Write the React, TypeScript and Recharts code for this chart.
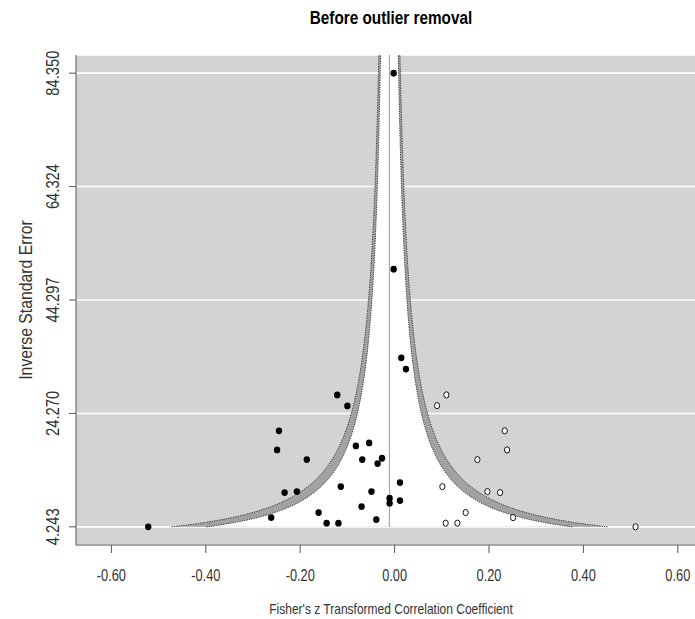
import React from 'react';
import { ComposedChart, Area, Scatter, XAxis, YAxis, CartesianGrid, ReferenceLine } from 'recharts';

// Observed studies (filled dots)
const observedEffect = [
  -0.002, -0.002, 0.0142, 0.024,
  -0.522, -0.2615, -0.245, -0.249, -0.233, -0.207, -0.186, -0.161, -0.144, -0.119,
  -0.1215, -0.1, -0.114, -0.082, -0.054, -0.0685, -0.07, -0.049, -0.0267, -0.036,
  -0.0388, -0.0106, -0.0106, 0.0114, 0.0114,
];
const observedPrecision = [
  84.35, 49.74, 34.08, 32.1,
  4.243, 5.88, 21.2, 17.83, 10.3, 10.47, 16.12, 6.77, 4.89, 4.89,
  27.54, 25.6, 11.35, 18.54, 19.06, 16.12, 7.83, 10.47, 16.36, 15.41,
  5.53, 9.31, 8.43, 12.06, 8.89,
];
// Imputed studies from trim-and-fill (open dots)
const imputedEffect = [
  0.1097, 0.09, 0.2333, 0.2383, 0.1754, 0.1012, 0.1966, 0.2235, 0.1506, 0.1082, 0.133, 0.251, 0.5105,
];
const imputedPrecision = [
  27.54, 25.65, 21.2, 17.83, 16.12, 11.35, 10.47, 10.3, 6.77, 4.89, 4.89, 5.88, 4.243,
];

const xTicks = [-0.6, -0.4, -0.2, 0, 0.2, 0.4, 0.6];
const yTicks = [4.243, 24.27, 44.297, 64.324, 84.35];

const pooledEstimate = -0.011;
const zInner = 1.645;
const zOuter = 1.96;
const yDomain: [number, number] = [1.039, 87.554];
const xDomain: [number, number] = [-0.675, 0.7];
const funnelBottom = 4.243;
const funnelSteps = 160;

// funnel contour rows (estimate +/- z / precision)
const funnelRows = Array.from({ length: funnelSteps + 1 }, (_, i) => {
  const y = funnelBottom * Math.pow(yDomain[1] / funnelBottom, i / funnelSteps);
  return {
    y,
    outer: [pooledEstimate - zOuter / y, pooledEstimate + zOuter / y],
    inner: [pooledEstimate - zInner / y, pooledEstimate + zInner / y],
  };
});

const observedPoints = observedEffect.map((x, i) => ({ x, y: observedPrecision[i] }));
const imputedPoints = imputedEffect.map((x, i) => ({ x, y: imputedPrecision[i] }));

const FONT = "'Liberation Sans', Arial, sans-serif";

const XTick = (props: any) => {
  const { x, y, payload } = props;
  return (
    <text
      transform={`translate(${x} ${y + 26}) scale(0.8 1)`}
      textAnchor="middle"
      fontFamily={FONT}
      fontSize={16}
      fill="#333"
    >
      {Number(payload.value).toFixed(2)}
    </text>
  );
};

const YTick = (props: any) => {
  const { x, y, payload } = props;
  const tx = x - 8;
  return (
    <text
      transform={`translate(${tx} ${y}) rotate(-90) scale(0.82 1)`}
      textAnchor="middle"
      fontFamily={FONT}
      fontSize={18}
      fill="#333"
    >
      {Number(payload.value).toFixed(3)}
    </text>
  );
};

const FilledDot = (p: any) => <ellipse cx={p.cx} cy={p.cy} rx={3.2} ry={3.4} fill="#000" />;
const OpenDot = (p: any) => (
  <ellipse cx={p.cx} cy={p.cy} rx={2.6} ry={3.1} fill="#fff" stroke="#111" strokeWidth={1} />
);

export default function App() {
  return (
    <div style={{ position: 'absolute', left: 0, top: 0, width: 695, height: 619, overflow: 'hidden', background: '#fff' }}>
      <ComposedChart
        width={725}
        height={619}
        layout="vertical"
        data={funnelRows}
        margin={{ top: 55, right: 0, bottom: 0, left: 0 }}
      >
        <CartesianGrid vertical={false} horizontal stroke="#ffffff" strokeWidth={1.6} fill="#d3d3d3" />
        <XAxis
          type="number"
          domain={xDomain}
          ticks={xTicks}
          allowDataOverflow
          height={74}
          tickSize={8}
          tick={<XTick />}
          axisLine={{ stroke: '#555' }}
          tickLine={{ stroke: '#555' }}
        />
        <YAxis
          type="number"
          dataKey="y"
          domain={yDomain}
          ticks={yTicks}
          reversed
          allowDataOverflow
          width={76}
          tickSize={7}
          tick={<YTick />}
          axisLine={{ stroke: '#555' }}
          tickLine={{ stroke: '#555' }}
        />
        <Area
          dataKey="outer"
          type="linear"
          fill="#a2a2a2"
          fillOpacity={1}
          stroke="#3a3a3a"
          strokeWidth={1}
          strokeDasharray="1.3 1.1"
          dot={false}
          activeDot={false}
          isAnimationActive={false}
        />
        <Area
          dataKey="inner"
          type="linear"
          fill="#ffffff"
          fillOpacity={1}
          stroke="#3a3a3a"
          strokeWidth={1}
          strokeDasharray="1.3 1.1"
          dot={false}
          activeDot={false}
          isAnimationActive={false}
        />
        <ReferenceLine
          segment={[{ x: pooledEstimate, y: funnelBottom }, { x: pooledEstimate, y: yDomain[1] }]}
          stroke="#9a9a9a"
          strokeWidth={1}
        />
        <Scatter data={observedPoints} dataKey="x" shape={FilledDot} isAnimationActive={false} />
        <Scatter data={imputedPoints} dataKey="x" shape={OpenDot} isAnimationActive={false} />
      </ComposedChart>
      <div
        style={{
          position: 'absolute', left: 391, top: 9, transform: 'translateX(-50%) scaleX(0.85)', whiteSpace: 'nowrap',
          fontFamily: FONT, fontWeight: 'bold', fontSize: 18, lineHeight: '18px', color: '#000',
        }}
      >
        Before outlier removal
      </div>
      <div
        style={{
          position: 'absolute', left: 391, top: 601, transform: 'translateX(-50%) scaleX(0.8)', whiteSpace: 'nowrap',
          fontFamily: FONT, fontSize: 15, lineHeight: '15px', color: '#333',
        }}
      >
        Fisher's z Transformed Correlation Coefficient
      </div>
      <div
        style={{
          position: 'absolute', left: 25, top: 300, transform: 'translate(-50%, -50%) rotate(-90deg) scaleX(0.83)', whiteSpace: 'nowrap',
          fontFamily: FONT, fontSize: 19, lineHeight: '19px', color: '#333',
        }}
      >
        Inverse Standard Error
      </div>
    </div>
  );
}
